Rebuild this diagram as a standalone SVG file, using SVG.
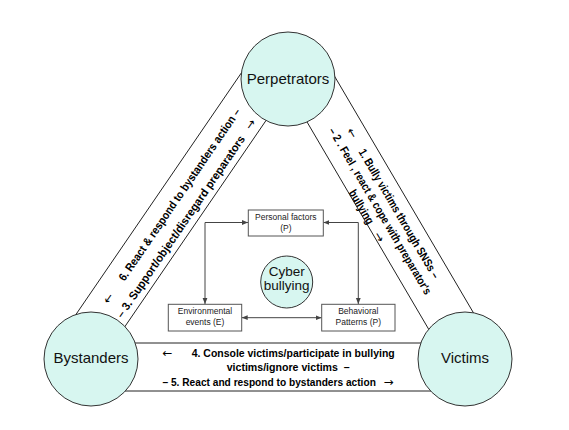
<svg xmlns="http://www.w3.org/2000/svg" width="569" height="430" viewBox="0 0 569 430">
<defs>
<marker id="ah" viewBox="0 0 10 10" refX="10" refY="5" markerWidth="6" markerHeight="6" orient="auto-start-reverse"><path d="M0,1 L10,5 L0,9 z" fill="#444"/></marker>
</defs>
<style>
.band{stroke:#222;stroke-width:1;fill:none}
.node{fill:#d7f6f0;stroke:#333;stroke-width:1}
.box{fill:#fff;stroke:#555;stroke-width:1}
.lbl{font-family:"Liberation Sans",Arial,sans-serif;font-size:15px;fill:#111;text-anchor:middle}
.small{font-family:"Liberation Sans",Arial,sans-serif;font-size:8.5px;fill:#222;text-anchor:middle}
.bt{font-family:"Liberation Sans",Arial,"DejaVu Sans",sans-serif;font-size:11.5px;font-weight:bold;fill:#000}
.ar{font-family:"DejaVu Sans",sans-serif;font-size:12px;font-weight:normal;fill:#000}
.conn{stroke:#444;stroke-width:1;fill:none}
</style>
<rect width="569" height="430" fill="#fff"/>
<g id="connectors">
<line class="band" x1="250.2" y1="60" x2="65.3" y2="330"/>
<line class="band" x1="273.2" y1="110" x2="115.7" y2="340"/>
<line class="band" x1="330.9" y1="70" x2="480.6" y2="325"/>
<line class="band" x1="300" y1="110" x2="435" y2="340"/>
<line class="band" x1="120" y1="343" x2="440" y2="343"/>
<line class="band" x1="120" y1="391" x2="440" y2="391"/>
<path class="conn" d="M248,222.5 H205 V304" marker-start="url(#ah)" marker-end="url(#ah)"/>
<path class="conn" d="M323.3,222.5 H358.3 V304" marker-start="url(#ah)" marker-end="url(#ah)"/>
<path class="conn" d="M241.7,317.7 H321.7" marker-start="url(#ah)" marker-end="url(#ah)"/>
</g>
<g id="label-left" class="bt" transform="rotate(-55.6)">
<text class="ar" x="-190" y="262" textLength="10" lengthAdjust="spacingAndGlyphs">←</text>
<text x="-162.2" y="262" textLength="206" lengthAdjust="spacingAndGlyphs">6. React &amp; respond to bystanders action –</text>
<text x="-193.8" y="281" textLength="218" lengthAdjust="spacingAndGlyphs">– 3. Support/object/disregard preparators</text>
<text class="ar" x="34" y="281" textLength="10" lengthAdjust="spacingAndGlyphs">→</text>
</g>
<g id="label-right" class="bt" transform="rotate(59.57)">
<text class="ar" x="288" y="-232" textLength="10" lengthAdjust="spacingAndGlyphs">←</text>
<text x="312.3" y="-232" textLength="148" lengthAdjust="spacingAndGlyphs">1. Bully victims through SNSs –</text>
<text x="278.8" y="-217" textLength="191.5" lengthAdjust="spacingAndGlyphs">– 2 . Feel , react &amp; cope with preparator's</text>
<text x="342.6" y="-203" textLength="38" lengthAdjust="spacingAndGlyphs">bullying</text>
<text class="ar" x="391.5" y="-203" textLength="10" lengthAdjust="spacingAndGlyphs">→</text>
</g>
<g id="label-bottom" class="bt">
<text class="ar" x="162.5" y="356.5" textLength="10" lengthAdjust="spacingAndGlyphs">←</text>
<text x="191.7" y="356.5" textLength="203" lengthAdjust="spacingAndGlyphs">4. Console victims/participate in bullying</text>
<text x="226.7" y="371" textLength="123" lengthAdjust="spacingAndGlyphs" xml:space="preserve">victims/ignore victims  –</text>
<text transform="translate(162.5,385.5) scale(0.884,1)" x="0" y="0">– 5. React and respond to bystanders action</text>
<text class="ar" x="383.5" y="385.5" textLength="10" lengthAdjust="spacingAndGlyphs">→</text>
</g>
<g id="perpetrators"><circle class="node" cx="288" cy="79" r="47"/><text class="lbl" x="288" y="84">Perpetrators</text></g>
<g id="bystanders"><circle class="node" cx="91" cy="359" r="47"/><text class="lbl" x="91" y="362.5">Bystanders</text></g>
<g id="victims"><circle class="node" cx="465" cy="359" r="47"/><text class="lbl" x="465" y="362.5">Victims</text></g>
<g id="personal"><rect class="box" x="248.3" y="210" width="75" height="26"/><text class="small" x="285.8" y="220">Personal factors</text><text class="small" x="285.8" y="231">(P)</text></g>
<g id="environmental"><rect class="box" x="168.3" y="304.3" width="73.4" height="26.7"/><text class="small" x="205" y="314">Environmental</text><text class="small" x="205" y="325">events (E)</text></g>
<g id="behavioral"><rect class="box" x="321.7" y="304.3" width="73.3" height="26.7"/><text class="small" x="358.3" y="314">Behavioral</text><text class="small" x="358.3" y="325">Patterns (P)</text></g>
<g id="cyber"><circle class="node" cx="286.7" cy="282" r="26"/><text class="lbl" style="font-size:13.5px" x="286.7" y="276">Cyber</text><text class="lbl" style="font-size:13.5px" x="286.7" y="289.5">bullying</text></g>
</svg>
